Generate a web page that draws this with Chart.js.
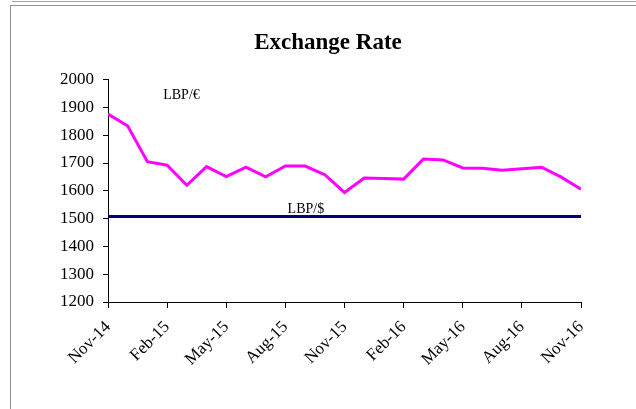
<!DOCTYPE html>
<html>
<head>
<meta charset="utf-8">
<script src="https://cdn.jsdelivr.net/npm/chart.js@4"></script>
<style>
  html, body { margin: 0; padding: 0; background: #fff; }
  #wrap { position: relative; width: 636px; height: 409px; }
  #topLine { position: absolute; left: 12px; top: 1px; right: 0; border-top: 1px solid #a0a0a0; }
  #frame { position: absolute; left: 10px; top: 5px; right: 0; bottom: -2px; border-top: 1px solid #909090; border-left: 1px solid #909090; }
  canvas { position: absolute; left: 0; top: 0; }
</style>
</head>
<body>
<div id="wrap">
  <div id="topLine"></div>
  <div id="frame"></div>
  <canvas id="grafico" width="636" height="409"></canvas>
</div>
<script>
const meses = ['Nov-14', 'Dec-14', 'Jan-15', 'Feb-15', 'Mar-15', 'Apr-15', 'May-15', 'Jun-15', 'Jul-15',
  'Aug-15', 'Sep-15', 'Oct-15', 'Nov-15', 'Dec-15', 'Jan-16', 'Feb-16', 'Mar-16', 'Apr-16', 'May-16',
  'Jun-16', 'Jul-16', 'Aug-16', 'Sep-16', 'Oct-16', 'Nov-16'];
const euro = [1876, 1833, 1705, 1692, 1620, 1687, 1651, 1685, 1650, 1689, 1689, 1658, 1594,
  1646, 1644, 1642, 1714, 1711, 1682, 1681, 1674, 1679, 1685, 1649, 1606];
const dolar = [1507.5, 1507.5, 1507.5, 1507.5, 1507.5, 1507.5, 1507.5, 1507.5, 1507.5, 1507.5,
  1507.5, 1507.5, 1507.5, 1507.5, 1507.5, 1507.5, 1507.5, 1507.5, 1507.5, 1507.5, 1507.5, 1507.5,
  1507.5, 1507.5, 1507.5];
const yTicks = [1200, 1300, 1400, 1500, 1600, 1700, 1800, 1900, 2000];

const fonte = 'Liberation Serif, Times New Roman, serif';

// series names written inside the plot, placed in data units
const rotulos = {
  id: 'rotulos',
  afterDatasetsDraw(chart) {
    const c = chart.ctx;
    const x = chart.scales.x, y = chart.scales.y;
    c.save();
    c.font = '14px ' + fonte;
    c.fillStyle = '#000';
    c.textAlign = 'center';
    c.textBaseline = 'middle';
    c.fillText('LBP/€', x.getPixelForValue(3.73), y.getPixelForValue(1943));
    c.fillText('LBP/$', x.getPixelForValue(10.04), y.getPixelForValue(1535));
    c.restore();
  }
};

new Chart(document.getElementById('grafico').getContext('2d'), {
  type: 'line',
  data: {
    datasets: [{
      label: 'LBP/€',
      data: euro.map((v, i) => ({ x: i, y: v })),
      borderColor: '#ff00ff',
      borderWidth: 3,
      pointRadius: 0,
      tension: 0
    }, {
      label: 'LBP/$',
      data: dolar.map((v, i) => ({ x: i, y: v })),
      borderColor: '#000080',
      borderWidth: 3,
      pointRadius: 0,
      tension: 0
    }]
  },
  options: {
    responsive: false,
    animation: false,
    layout: { padding: { left: 20, right: 0, top: 0, bottom: 0 } },
    plugins: {
      legend: { display: false },
      tooltip: { enabled: false },
      title: {
        display: true,
        text: 'Exchange Rate',
        color: '#000',
        font: { family: fonte, size: 23, weight: 'bold' },
        padding: { top: 29, bottom: 23 }
      }
    },
    scales: {
      x: {
        type: 'linear',
        min: 0,
        max: meses.length - 1,
        afterFit(s) { s.height = 107; },
        border: { color: '#000', width: 1 },
        grid: { drawOnChartArea: false, drawTicks: true, tickLength: 6, color: '#000' },
        ticks: {
          stepSize: 3,
          autoSkip: false,
          minRotation: 45,
          maxRotation: 45,
          padding: 9,
          color: '#000',
          font: { family: fonte, size: 17 },
          callback: v => meses[v]
        }
      },
      y: {
        min: yTicks[0],
        max: yTicks[yTicks.length - 1],
        afterFit(s) { s.width = 88; },
        afterBuildTicks(s) { s.ticks = yTicks.map(v => ({ value: v })); },
        border: { color: '#000', width: 1 },
        grid: { drawOnChartArea: false, drawTicks: true, tickLength: 5, color: '#000' },
        ticks: {
          padding: 9,
          color: '#000',
          font: { family: fonte, size: 17 },
          callback: v => String(v)
        }
      },
      // empty margin on the right of the plot
      vazio: {
        position: 'right',
        min: 0,
        max: 1,
        afterFit(s) { s.width = 55; },
        border: { display: false },
        grid: { display: false },
        ticks: { display: false }
      }
    }
  },
  plugins: [rotulos]
});
</script>
</body>
</html>
